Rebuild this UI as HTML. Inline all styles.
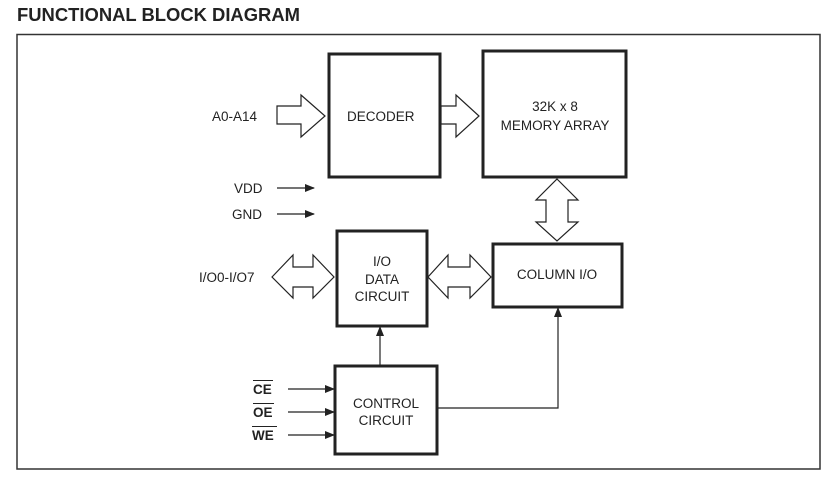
<!DOCTYPE html>
<html><head><meta charset="utf-8"><style>
html,body{margin:0;padding:0;background:#fff;}
svg{display:block;}
text{font-family:"Liberation Sans",Arial,sans-serif;fill:#222;}
</style></head><body>
<svg width="835" height="478" viewBox="0 0 835 478" xmlns="http://www.w3.org/2000/svg">
<defs>
<marker id="ah" markerWidth="10" markerHeight="8" refX="9" refY="4" orient="auto" markerUnits="userSpaceOnUse">
<path d="M0,0 L10,4 L0,8 Z" fill="#222"/></marker>
</defs>
<text x="17" y="21" font-size="18" font-weight="bold" fill="#1a1a1a" textLength="283" lengthAdjust="spacingAndGlyphs">FUNCTIONAL BLOCK DIAGRAM</text>
<rect x="17" y="34.5" width="803" height="434.5" fill="none" stroke="#333" stroke-width="1.5"/>

<g fill="#fff" stroke="#222" stroke-width="3">
<rect x="329" y="54" width="111" height="123"/>
<rect x="483" y="51" width="143" height="126"/>
<rect x="337" y="231" width="90" height="95"/>
<rect x="493" y="244" width="129" height="63"/>
<rect x="335" y="366" width="102" height="88"/>
</g>

<g fill="#fff" stroke="#222" stroke-width="1.2">
<path d="M277,106 L301,106 L301,95 L325,116 L301,137 L301,124 L277,124 Z"/>
<path d="M441,106 L456,106 L456,95 L479,116 L456,137 L456,124 L441,124 Z"/>
<path d="M557,179 L578,200 L568,200 L568,222 L578,222 L557,241 L536,222 L546,222 L546,200 L536,200 Z"/>
<path d="M272,277 L293,255 L293,267 L313,267 L313,255 L334,277 L313,298 L313,287 L293,287 L293,298 Z"/>
<path d="M428,277 L448,255 L448,267 L470,267 L470,255 L491,277 L470,298 L470,287 L448,287 L448,298 Z"/>
</g>

<g stroke="#222" stroke-width="1.2" fill="none">
<line x1="277" y1="188" x2="314" y2="188" marker-end="url(#ah)"/>
<line x1="277" y1="214" x2="314" y2="214" marker-end="url(#ah)"/>
<line x1="288" y1="389" x2="334" y2="389" marker-end="url(#ah)"/>
<line x1="288" y1="412" x2="334" y2="412" marker-end="url(#ah)"/>
<line x1="288" y1="435" x2="334" y2="435" marker-end="url(#ah)"/>
<line x1="380" y1="365" x2="380" y2="327" marker-end="url(#ah)"/>
<polyline points="437,408 558,408 558,308" marker-end="url(#ah)"/>
</g>

<g font-size="13.5">
<text x="212" y="121">A0-A14</text>
<text x="347" y="121">DECODER</text>
<text x="555" y="111" text-anchor="middle">32K x 8</text>
<text x="555" y="130" text-anchor="middle">MEMORY ARRAY</text>
<text x="234" y="193">VDD</text>
<text x="232" y="219">GND</text>
<text x="199" y="282">I/O0-I/O7</text>
<text x="382" y="266" text-anchor="middle">I/O</text>
<text x="382" y="284" text-anchor="middle">DATA</text>
<text x="382" y="301" text-anchor="middle">CIRCUIT</text>
<text x="557" y="279" text-anchor="middle">COLUMN I/O</text>
<text x="386" y="408" text-anchor="middle">CONTROL</text>
<text x="386" y="425" text-anchor="middle">CIRCUIT</text>
<text x="253" y="394" font-weight="bold">CE</text>
<text x="253" y="417" font-weight="bold">OE</text>
<text x="252" y="440" font-weight="bold">WE</text>
</g>
<g stroke="#222" stroke-width="1">
<line x1="253" y1="380.5" x2="273" y2="380.5"/>
<line x1="253" y1="403.5" x2="274" y2="403.5"/>
<line x1="252" y1="426.5" x2="277" y2="426.5"/>
</g>
</svg>
</body></html>
